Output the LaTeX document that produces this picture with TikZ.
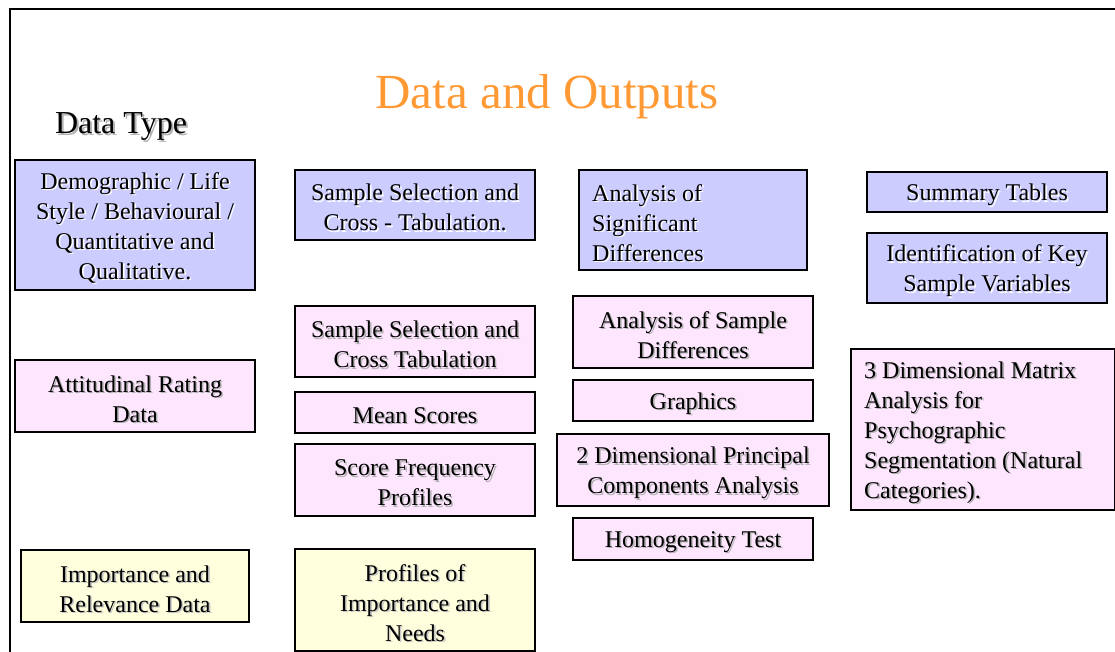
\documentclass[tikz,border=0pt]{standalone}
\usepackage{fontspec}
\setmainfont{Liberation Serif}
\newfontfamily\timesface{Liberation Serif}
\definecolor{lav}{RGB}{204,204,255}
\definecolor{pinkbox}{RGB}{255,230,255}
\definecolor{yelbox}{RGB}{255,255,221}
\definecolor{titleor}{RGB}{255,153,51}
% colour of the text shadow on each box colour
\colorlet{lavshadow}{white}
\colorlet{pinkboxshadow}{black!30}
\colorlet{yelboxshadow}{black!22}
\tikzset{
  frameline/.style={line width=2pt},
  panel/.style={draw=black, line width=1.6pt, inner sep=0pt, outer sep=0pt},
  btext/.style={font=\timesface\fontsize{24}{30}\selectfont, align=center, inner sep=0pt},
  ltext/.style={btext, align=left, anchor=west},
}
% boxed label with a soft drop shadow behind its text
% #1 name, #2 fill, #3 left, #4 top, #5 right, #6 bottom, #7 text
\newcommand\panelbox[7]{%
  \node[panel, fill=#2, minimum width={#5-#3}, minimum height={#6-#4}]
    (#1) at ({(#3+#5)/2},{(#4+#6)/2}) {};
  \node[btext, text=#2shadow] at ([shift={(1.6,4.4)}]#1.center) {#7};
  \node[btext] at ([shift={(0,2.8)}]#1.center) {#7};
}
% same, with the text set flush left
\newcommand\panelboxleft[7]{%
  \node[panel, fill=#2, minimum width={#5-#3}, minimum height={#6-#4}]
    (#1) at ({(#3+#5)/2},{(#4+#6)/2}) {};
  \node[ltext, text=#2shadow] at ([shift={(14.6,4.4)}]#1.west) {#7};
  \node[ltext] at ([shift={(13,2.8)}]#1.west) {#7};
}
\begin{document}
\begin{tikzpicture}[x=1pt,y=-1pt]
  \useasboundingbox (0,0) rectangle (1115,652);
  \fill[white] (0,0) rectangle (1115,652);

  % page frame
  \draw[frameline] (10,653) -- (10,9) -- (1116,9);

  % headings
  \node[font=\timesface\fontsize{49}{56}\selectfont, text=titleor, inner sep=0pt] (title) at (547,97) {Data and Outputs};
  \node[font=\timesface\fontsize{32}{36}\selectfont, text=black!30, inner sep=0pt] at (123,128) {Data Type};
  \node[font=\timesface\fontsize{32}{36}\selectfont, inner sep=0pt] (datatype) at (121,126) {Data Type};

  % first row: data types and outputs
  \panelbox{demo}{lav}{15}{160}{255}{290}{Demographic / Life\\Style / Behavioural /\\Quantitative and\\Qualitative.}
  \panelbox{cross}{lav}{295}{170}{535}{240}{Sample Selection and\\Cross - Tabulation.}
  \panelboxleft{signif}{lav}{579}{170}{807}{270}{Analysis of\\Significant\\Differences}
  \panelbox{summary}{lav}{867}{172}{1107}{212}{Summary Tables}
  \panelbox{keyvars}{lav}{867}{233}{1107}{303}{Identification of Key\\Sample Variables}

  % second row: attitudinal data
  \panelbox{attit}{pinkbox}{15}{360}{255}{432}{Attitudinal Rating\\Data}
  \panelbox{crosstab}{pinkbox}{295}{306}{535}{377}{Sample Selection and\\Cross Tabulation}
  \panelbox{mean}{pinkbox}{295}{392}{535}{433}{Mean Scores}
  \panelbox{freq}{pinkbox}{295}{444}{535}{516}{Score Frequency\\Profiles}
  \panelbox{sampdiff}{pinkbox}{573}{296}{813}{368}{Analysis of Sample\\Differences}
  \panelbox{graphics}{pinkbox}{573}{380}{813}{421}{Graphics}
  \panelbox{pca}{pinkbox}{557}{434}{829}{506}{2 Dimensional Principal\\Components Analysis}
  \panelbox{homog}{pinkbox}{573}{518}{813}{560}{Homogeneity Test}
  \panelboxleft{matrix}{pinkbox}{851}{349}{1115}{510}{3 Dimensional Matrix\\Analysis for\\Psychographic\\Segmentation (Natural\\Categories).}

  % third row: importance data
  \panelbox{import}{yelbox}{21}{550}{249}{622}{Importance and\\Relevance Data}
  \panelbox{needs}{yelbox}{295}{549}{535}{651}{Profiles of\\Importance and\\Needs}
\end{tikzpicture}
\end{document}
